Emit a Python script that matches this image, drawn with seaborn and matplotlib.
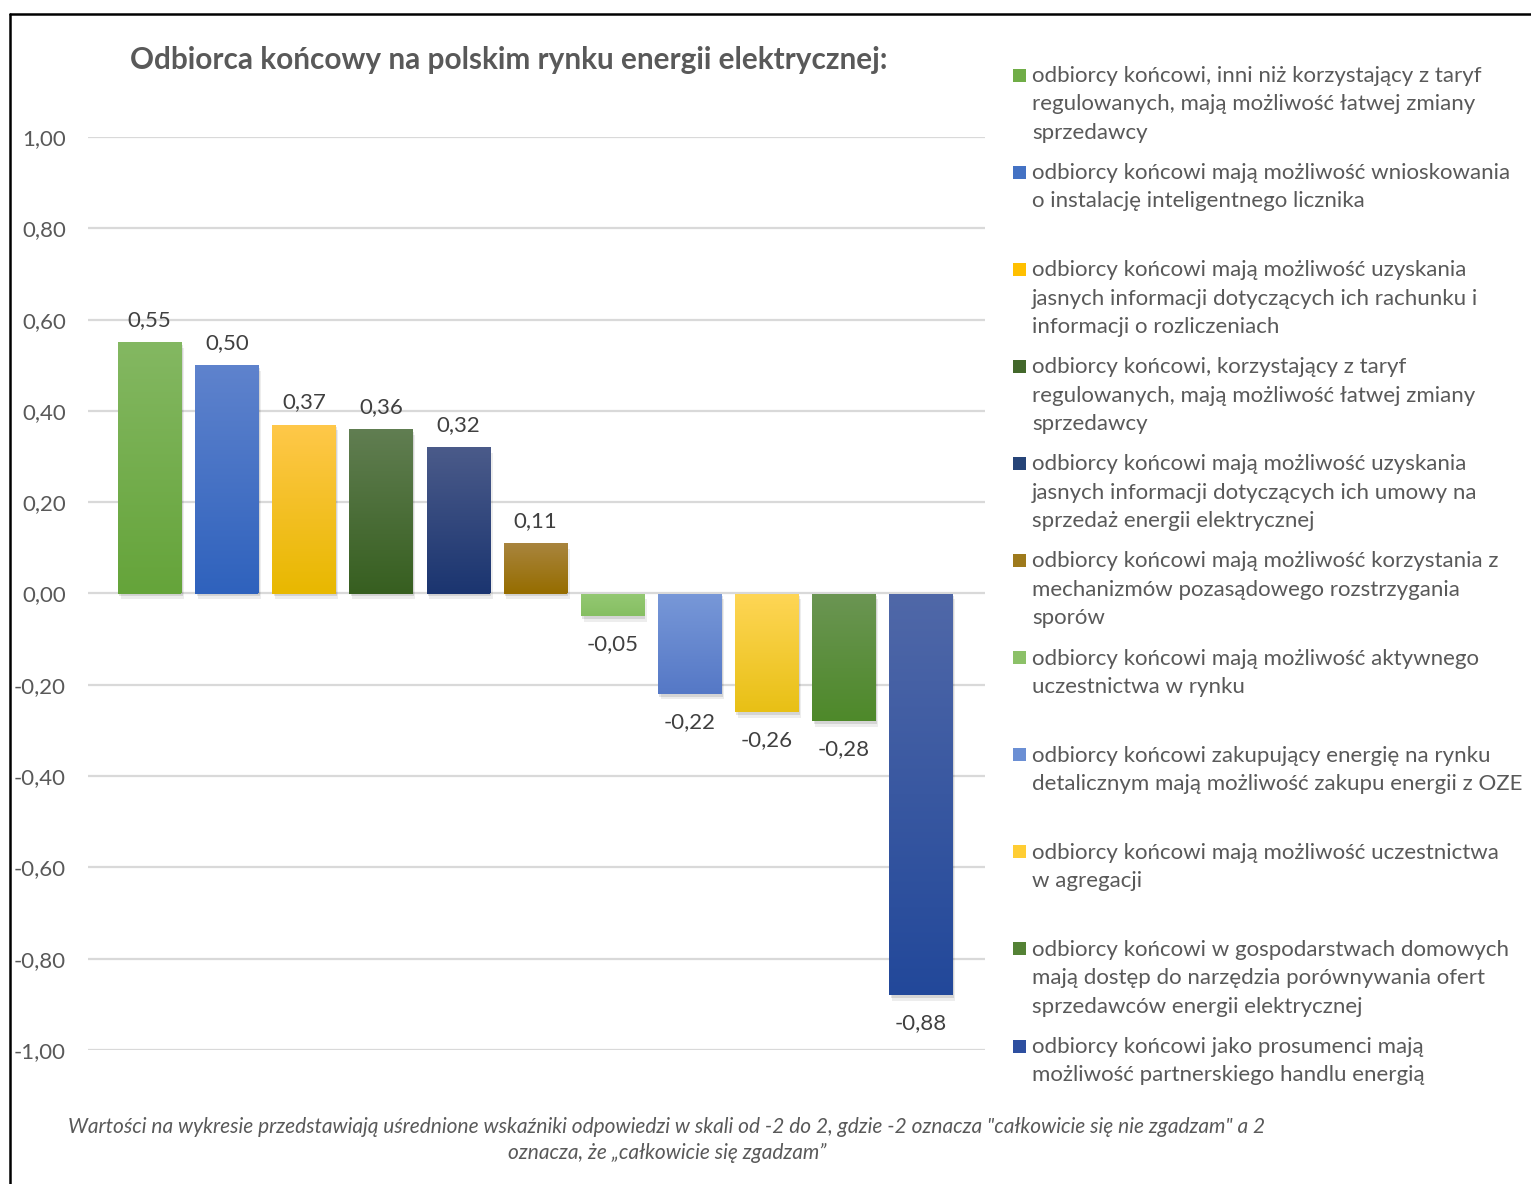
import numpy as np
import pandas as pd
import matplotlib
matplotlib.use("Agg")
import matplotlib.pyplot as plt
import matplotlib.patheffects as pe
from matplotlib.colors import LinearSegmentedColormap, to_rgb
from matplotlib.lines import Line2D
from matplotlib.patches import Rectangle
from matplotlib.ticker import FuncFormatter, MultipleLocator
import seaborn as sns

# ---- data ---------------------------------------------------------------
categories = [
    "odbiorcy końcowi, inni niż korzystający z taryf\nregulowanych, mają możliwość łatwej zmiany\nsprzedawcy",
    "odbiorcy końcowi mają możliwość wnioskowania\no instalację inteligentnego licznika",
    "odbiorcy końcowi mają możliwość uzyskania\njasnych informacji dotyczących ich rachunku i\ninformacji o rozliczeniach",
    "odbiorcy końcowi, korzystający z taryf\nregulowanych, mają możliwość łatwej zmiany\nsprzedawcy",
    "odbiorcy końcowi mają możliwość uzyskania\njasnych informacji dotyczących ich umowy na\nsprzedaż energii elektrycznej",
    "odbiorcy końcowi mają możliwość korzystania z\nmechanizmów pozasądowego rozstrzygania\nsporów",
    "odbiorcy końcowi mają możliwość aktywnego\nuczestnictwa w rynku",
    "odbiorcy końcowi zakupujący energię na rynku\ndetalicznym mają możliwość zakupu energii z OZE",
    "odbiorcy końcowi mają możliwość uczestnictwa\nw agregacji",
    "odbiorcy końcowi w gospodarstwach domowych\nmają dostęp do narzędzia porównywania ofert\nsprzedawców energii elektrycznej",
    "odbiorcy końcowi jako prosumenci mają\nmożliwość partnerskiego handlu energią",
]
values = [0.55, 0.50, 0.37, 0.36, 0.32, 0.11, -0.05, -0.22, -0.26, -0.28, -0.88]

# gradient colours per bar: (top, bottom)
top_colors = ["#84b862", "#5f83cd", "#ffc84a", "#617e52", "#4b5b8a", "#a9853f",
              "#94c873", "#7898d8", "#ffd656", "#6b9553", "#5068a8"]
bottom_colors = ["#65a43a", "#2f62bd", "#e8b800", "#375f20", "#1b3570", "#966d00",
                 "#86bf62", "#5578c6", "#e8c015", "#4e892a", "#22489a"]
legend_colors = ["#70ad47", "#4472c4", "#ffc000", "#43682b", "#264478", "#9e7a1c",
                 "#8cc168", "#6b8fd4", "#ffcd33", "#548235", "#2e4fa0"]

title = "Odbiorca końcowy na polskim rynku energii elektrycznej:"
footnote = ("Wartości na wykresie przedstawiają uśrednione wskaźniki odpowiedzi w skali od -2 do 2, "
            "gdzie -2 oznacza \"całkowicie się nie zgadzam\" a 2\noznacza, że „całkowicie się zgadzam”")

# ---- figure -------------------------------------------------------------
sns.set_theme(style="white")
plt.rcParams["font.family"] = ["Lato", "DejaVu Sans"]

W, H = 1531, 1184
fig = plt.figure(figsize=(W / 100, H / 100), dpi=100)
ax = fig.add_axes([88 / W, 1 - 1050 / H, (985 - 88) / W, (1050 - 137) / H])

df = pd.DataFrame({"cat": [f"c{i}" for i in range(len(values))], "val": values})
sns.barplot(data=df, x="cat", y="val", hue="cat", palette=bottom_colors,
            width=0.82, legend=False, ax=ax, zorder=2, saturation=1, linewidth=0)

ax.set_xticks([])
ax.set_xlabel("")
ax.set_ylabel("")
ax.yaxis.set_major_locator(MultipleLocator(0.2))
ax.yaxis.set_major_formatter(FuncFormatter(lambda v, _: f"{v:.2f}".replace(".", ",")))
ax.grid(axis="y", color="#d9d9d9", linewidth=1.6, zorder=0)
ax.set_axisbelow(True)
for s in ax.spines.values():
    s.set_visible(False)
ax.tick_params(axis="y", length=0, pad=16, labelsize=16, labelcolor="#595959")

# gradient fill + soft shadow for each bar
for patch, c_top, c_bot in zip(ax.patches, top_colors, bottom_colors):
    patch.set_path_effects([
        pe.SimplePatchShadow(offset=(2, -4), shadow_rgbFace="black", alpha=0.07),
        pe.SimplePatchShadow(offset=(1, -2), shadow_rgbFace="black", alpha=0.10),
        pe.Normal()])
    x0, y0 = patch.get_x(), patch.get_y()
    w, h = patch.get_width(), patch.get_height()
    ylo, yhi = min(y0, y0 + h), max(y0, y0 + h)
    # gradient over the bar's own extent, lighter towards the top
    cmap = LinearSegmentedColormap.from_list("g", [to_rgb(c_bot), to_rgb(c_top)])
    grad = np.linspace(0, 1, 256).reshape(-1, 1)
    im = ax.imshow(grad, cmap=cmap, origin="lower", aspect="auto",
                   extent=[x0, x0 + w, ylo, yhi], zorder=3, interpolation="bicubic")
    im.set_clip_path(patch)
ax.set_xlim(-0.80, 10.83)
ax.set_ylim(-1.0, 1.0)

# value labels
for patch, v in zip(ax.patches, values):
    xc = patch.get_x() + patch.get_width() / 2
    off = 9 if v >= 0 else -13
    ax.annotate(f"{v:.2f}".replace(".", ","), (xc, v), xytext=(0, off),
                textcoords="offset points", ha="center",
                va="bottom" if v >= 0 else "top",
                fontsize=16, color="#404040", zorder=5)

# title
fig.text(509 / W, 1 - 60 / H, title, ha="center", va="center",
         fontsize=21.4, fontweight="bold", color="#595959")

# legend entries placed at a fixed pitch
leg_top = 75
pitch = 97.1
for i, (lab, col) in enumerate(zip(categories, legend_colors)):
    yc = leg_top + i * pitch
    fig.patches.append(Rectangle((1013 / W, 1 - (yc + 6.5) / H), 13 / W, 13 / H,
                                 transform=fig.transFigure, facecolor=col,
                                 edgecolor="none"))
    fig.text(1032 / W, 1 - (yc - 9) / H, lab, ha="left", va="top",
             fontsize=16, color="#595959", linespacing=1.52)

# footnote
fig.text(667 / W, 1 - 1140 / H, footnote, ha="center", va="center",
         fontsize=15, style="italic", color="#595959", linespacing=1.4)

# outer frame (left and top edges visible)
fig.add_artist(Line2D([9.5 / W, 9.5 / W], [0, 1 - 13.5 / H], transform=fig.transFigure,
                      color="black", linewidth=1.8))
fig.add_artist(Line2D([9.5 / W, 1], [1 - 13.5 / H, 1 - 13.5 / H], transform=fig.transFigure,
                      color="black", linewidth=1.8))

fig.savefig("out.png", dpi=100, facecolor="white")
